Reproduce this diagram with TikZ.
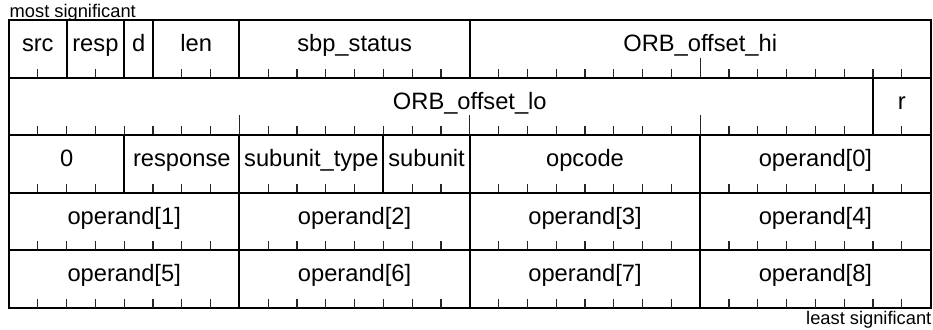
\documentclass[tikz,border=0pt]{standalone}
\usepackage{fontspec}
\setmainfont{Liberation Sans}

% geometry of the register map (1pt per unit, y grows downwards)
\newcommand\regleft{9}
\newcommand\regtick{28.8}
\newcommand\regtop{20}
\newcommand\regrow{57.5}

% \regfield{row}{first tick}{last tick}{label centre, in ticks}{name}{text}
\newcommand\regfield[6]{%
  \pgfmathsetmacro\fxa{\regleft+\regtick*#2}%
  \pgfmathsetmacro\fxb{\regleft+\regtick*#3}%
  \pgfmathsetmacro\fyt{\regtop+\regrow*#1}%
  \pgfmathsetmacro\fyb{\fyt+\regrow}%
  \draw[frame] (\fxa,\fyt) rectangle (\fxb,\fyb);
  \pgfmathtruncatemacro\ka{#2+1}%
  \pgfmathtruncatemacro\kb{#3-1}%
  \ifnum\ka>\kb\else
    \foreach \k in {\ka,...,\kb}{%
      \pgfmathsetmacro\tx{\regleft+\regtick*\k}%
      \pgfmathsetmacro\tl{ifthenelse(mod(\k,8)==0,20,9)}%
      \draw[tickline] (\tx,\fyb) -- ++(0,-\tl);
    }%
  \fi
  \node[lbl] (#5) at ({\regleft+\regtick*#4},{\fyt+31.5}) {#6};
}

\begin{document}
\begin{tikzpicture}[x=1pt,y=-1pt,
  frame/.style={line width=2pt, line join=miter},
  tickline/.style={line width=1.2pt, draw=black!85},
  lbl/.style={font=\fontsize{23.7}{28}\selectfont, anchor=base, inner sep=0pt},
  note/.style={font=\fontsize{18.3}{21}\selectfont, inner sep=0pt}]
\useasboundingbox (0,0) rectangle (933,329);

% row 0
\regfield{0}{0}{2}{1}{src}{src}
\regfield{0}{2}{4}{3}{resp}{resp}
\regfield{0}{4}{5}{4.5}{d}{d}
\regfield{0}{5}{8}{6.5}{len}{len}
\regfield{0}{8}{16}{12}{sbpstatus}{sbp\_status}
\regfield{0}{16}{32}{24}{orbhi}{ORB\_offset\_hi}

% row 1
\regfield{1}{0}{30}{16}{orblo}{ORB\_offset\_lo}
\regfield{1}{30}{32}{31}{r}{r}

% row 2
\regfield{2}{0}{4}{2}{zero}{0}
\regfield{2}{4}{8}{6}{response}{response}
\regfield{2}{8}{13}{10.5}{subunittype}{subunit\_type}
\regfield{2}{13}{16}{14.5}{subunit}{subunit}
\regfield{2}{16}{24}{20}{opcode}{opcode}
\regfield{2}{24}{32}{28}{operand0}{operand[0]}

% rows 3 and 4: operands
\regfield{3}{0}{8}{4}{operand1}{operand[1]}
\regfield{3}{8}{16}{12}{operand2}{operand[2]}
\regfield{3}{16}{24}{20}{operand3}{operand[3]}
\regfield{3}{24}{32}{28}{operand4}{operand[4]}
\regfield{4}{0}{8}{4}{operand5}{operand[5]}
\regfield{4}{8}{16}{12}{operand6}{operand[6]}
\regfield{4}{16}{24}{20}{operand7}{operand[7]}
\regfield{4}{24}{32}{28}{operand8}{operand[8]}

% bit order notes
\node[note, anchor=base west] (msb) at (9.5,17.5) {most significant};
\node[note, anchor=base east] (lsb) at (931.5,324) {least significant};
\end{tikzpicture}
\end{document}
